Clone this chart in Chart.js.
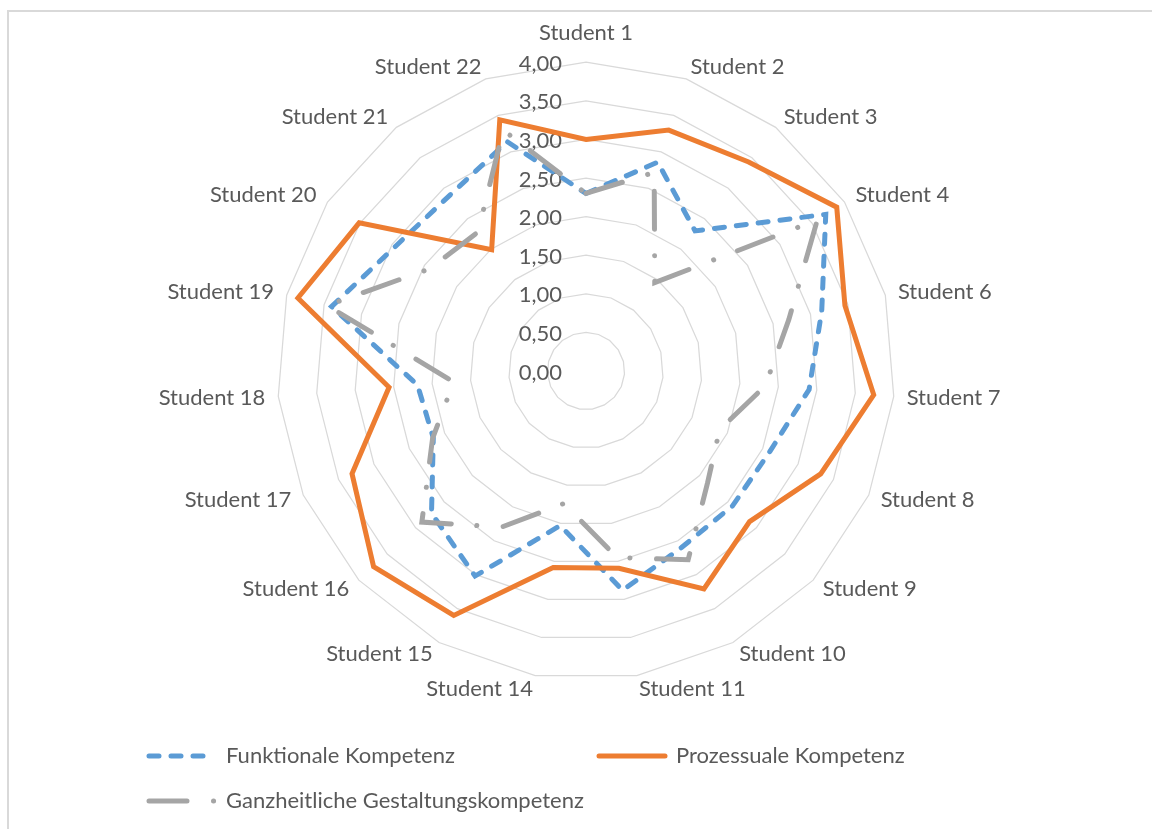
<!DOCTYPE html>
<html lang="de">
<head>
<meta charset="utf-8">
<title>Kompetenzprofil</title>
<script src="https://cdn.jsdelivr.net/npm/chart.js@4"></script>
<style>
  html, body { margin: 0; padding: 0; background: #fff; overflow: hidden; }
  #rahmen { position: absolute; left: 7px; top: 10px; width: 1200px; height: 900px; border: 2px solid #d9d9d9; }
  #grafik { position: absolute; left: 0; top: 0; }
</style>
</head>
<body>
<div id="rahmen"></div>
<canvas id="grafik" width="1152" height="829"></canvas>
<script>
//DATOS
const studenten = ['Student 1', 'Student 2', 'Student 3', 'Student 4', 'Student 6', 'Student 7', 'Student 8',
    'Student 9', 'Student 10', 'Student 11', 'Student 14', 'Student 15', 'Student 16', 'Student 17',
    'Student 18', 'Student 19', 'Student 20', 'Student 21', 'Student 22']

const funktional = [2.30, 2.86, 2.30, 3.71, 3.15, 2.90, 2.60, 2.58, 2.60, 2.88, 2.03, 3.02, 2.72, 2.16, 2.19, 3.40, 2.95, 2.88, 3.14]
const prozessual = [3.00, 3.30, 3.43, 3.88, 3.46, 3.74, 3.32, 2.88, 3.21, 2.59, 2.58, 3.60, 3.74, 3.31, 2.56, 3.85, 3.51, 1.99, 3.44]
const ganzheitlich = [2.30, 2.72, 1.45, 3.58, 2.71, 2.33, 1.89, 2.14, 2.78, 2.45, 1.74, 2.30, 2.89, 2.17, 1.72, 3.46, 2.42, 2.28, 3.30]

const tickLabels = ['0,00', '0,50', '1,00', '1,50', '2,00', '2,50', '3,00', '3,50', '4,00']

const schrift = 'Lato'
const textFarbe = '#595959'
const grosor = 5

//los valores del eje se dibujan a la izquierda del eje vertical, como en Excel
const achsenWerte = {
    id: 'achsenWerte',
    beforeDatasetsDraw(chart) {
        const r = chart.scales.r
        const ctx = chart.ctx
        ctx.save()
        ctx.font = '22px ' + schrift
        ctx.fillStyle = textFarbe
        ctx.textAlign = 'right'
        ctx.textBaseline = 'middle'
        r.ticks.forEach((t, i) => {
            const d = r.getDistanceFromCenterForValue(t.value)
            ctx.fillText(tickLabels[i], r.xCenter - 24, r.yCenter - d + 1.5)
        })
        ctx.restore()
    }
}

//leyenda en dos columnas debajo del grafico
const legendePos = [{ x: 149, y: 756 }, { x: 599, y: 756 }, { x: 149, y: 801 }]

const legende = {
    id: 'legende',
    afterDraw(chart) {
        const ctx = chart.ctx
        chart.data.datasets.forEach((ds, i) => {
            const p = legendePos[i]
            ctx.save()
            ctx.strokeStyle = ds.borderColor
            ctx.lineWidth = grosor
            ctx.lineCap = 'round'
            ctx.setLineDash(ds.borderDash)
            ctx.beginPath()
            ctx.moveTo(p.x, p.y)
            ctx.lineTo(p.x + 66, p.y)
            ctx.stroke()
            ctx.restore()

            ctx.save()
            ctx.font = '22px ' + schrift
            ctx.fillStyle = textFarbe
            ctx.textBaseline = 'middle'
            ctx.fillText(ds.label, p.x + 77, p.y)
            ctx.restore()
        })
    }
}

const ctx = document.getElementById('grafik').getContext('2d')

let chart = new Chart(ctx, {
    type: 'radar',
    data: {
        labels: studenten,
        datasets: [{
            label: 'Funktionale Kompetenz',
            data: funktional,
            borderColor: '#5B9BD5',
            borderDash: [10, 12],
            order: 3
        }, {
            label: 'Prozessuale Kompetenz',
            data: prozessual,
            borderColor: '#ED7D31',
            borderDash: [],
            order: 2
        }, {
            label: 'Ganzheitliche Gestaltungskompetenz',
            data: ganzheitlich,
            borderColor: '#A5A5A5',
            borderDash: [38, 26.5, 0.1, 25.5],
            order: 1
        }]
    },
    options: {
        responsive: false,
        animation: false,
        events: [],
        layout: { padding: { top: 23, left: 20, right: 0, bottom: 130 } },
        elements: {
            line: { borderWidth: grosor, borderCapStyle: 'round', borderJoinStyle: 'miter', fill: false, tension: 0 },
            point: { radius: 0, hoverRadius: 0 }
        },
        scales: {
            r: {
                min: 0,
                max: 4,
                ticks: { stepSize: 0.5, display: false },
                grid: { color: '#d9d9d9', lineWidth: 1.25 },
                angleLines: { display: false },
                pointLabels: {
                    color: textFarbe,
                    //caja de texto plana: el texto queda centrado en su punto
                    font: { family: schrift, size: 22, lineHeight: 0.01 },
                    padding: c => c.index === 0 ? 29 : 13
                }
            }
        },
        plugins: {
            legend: { display: false },
            tooltip: { enabled: false }
        }
    },
    plugins: [achsenWerte, legende]
})
</script>
</body>
</html>
